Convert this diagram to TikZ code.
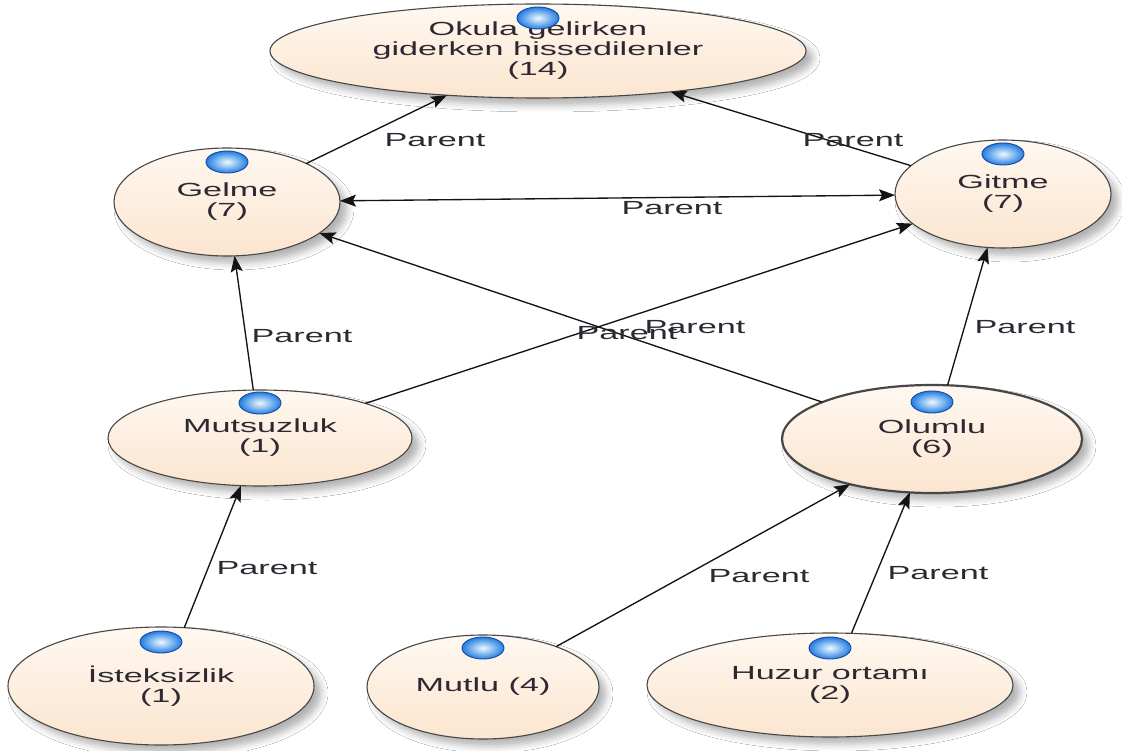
\documentclass[tikz,border=0pt]{standalone}
\usepackage{fontspec}
\setmainfont{Liberation Sans}[FakeStretch=1.8]
\usetikzlibrary{shapes.geometric,arrows.meta,shadows.blur}
\definecolor{peachA}{RGB}{255,248,240}
\definecolor{peachB}{RGB}{251,229,207}
\definecolor{txt}{RGB}{45,40,50}
\definecolor{edgec}{RGB}{20,20,20}
\definecolor{dotin}{RGB}{235,250,255}
\definecolor{dotout}{RGB}{35,125,225}
\definecolor{dotrim}{RGB}{20,75,165}
\pgfdeclarelayer{bg}
\pgfsetlayers{bg,main}
\begin{document}
\begin{tikzpicture}[x=1pt,y=-1pt,
  font=\fontsize{19pt}{20pt}\selectfont,
  concept/.style={ellipse, draw=black!72, line width=1.1pt,
    top color=peachA, bottom color=peachB,
    inner sep=0pt, outer sep=0pt, align=center, text=txt,
    blur shadow={shadow xshift=7pt, shadow yshift=-7pt,
      shadow blur radius=7pt, shadow opacity=30}},
  bluedot/.style={ellipse, minimum width=42pt, minimum height=22pt,
    inner sep=0pt, draw=dotrim, line width=0.9pt,
    inner color=dotin, outer color=dotout},
  lbl/.style={text=txt, inner sep=0pt},
  conn/.style={draw=edgec, line width=1.35pt,
    -{Stealth[length=16pt,width=12pt,inset=3pt]}},
  connboth/.style={draw=edgec, line width=1.35pt,
    {Stealth[length=16pt,width=12pt,inset=3pt]}-{Stealth[length=16pt,width=12pt,inset=3pt]}},
  shconn/.style={draw=black!9, line width=1.6pt,
    -{Stealth[length=14pt,width=11pt,inset=3pt,color=black!16]},
    transform canvas={shift={(22pt,-14pt)}}}
]
\fill[white] (0,0) rectangle (1122,751);
\useasboundingbox (0,0) rectangle (1122,751);

% nodes
\node[concept, minimum width=536pt, minimum height=94pt] (top) at (538,51)
  {Okula gelirken\\giderken hissedilenler\\(14)};
\node[concept, minimum width=226pt, minimum height=108pt] (gelme) at (227,202) {Gelme\\(7)};
\node[concept, minimum width=216pt, minimum height=108pt] (gitme) at (1003,194) {Gitme\\(7)};
\node[concept, minimum width=304pt, minimum height=96pt] (mutsuz) at (260,438) {Mutsuzluk\\(1)};
\node[concept, minimum width=300pt, minimum height=108pt, line width=2.2pt] (olumlu) at (932,439) {Olumlu\\(6)};
\node[concept, minimum width=306pt, minimum height=118pt] (istek) at (161,686) {İsteksizlik\\(1)};
\node[concept, minimum width=232pt, minimum height=104pt] (mutlu) at (483,687) {Mutlu (4)};
\node[concept, minimum width=366pt, minimum height=104pt] (huzur) at (830,685) {Huzur ortamı\\(2)};

% shadow connectors
\begin{pgfonlayer}{bg}
\draw[shconn] (gelme) -- (top);
\draw[shconn] (gitme) -- (top);
\draw[shconn] (gelme) -- (gitme);
\draw[shconn] (mutsuz) -- (gelme);
\draw[shconn] (mutsuz) -- (gitme);
\draw[shconn] (olumlu) -- (gelme);
\draw[shconn] (olumlu) -- (gitme);
\draw[shconn] (istek) -- (mutsuz);
\draw[shconn] (mutlu) -- (olumlu);
\draw[shconn] (huzur) -- (olumlu);
\end{pgfonlayer}

% blue dots
\node[bluedot] (dtop) at ([yshift=33pt]top.center) {};
\node[bluedot] (dgelme) at ([yshift=40pt]gelme.center) {};
\node[bluedot] (dgitme) at ([yshift=40pt]gitme.center) {};
\node[bluedot] (dmutsuz) at ([yshift=35pt]mutsuz.center) {};
\node[bluedot] (dolumlu) at ([yshift=37pt]olumlu.center) {};
\node[bluedot] (distek) at ([yshift=44pt]istek.center) {};
\node[bluedot] (dmutlu) at ([yshift=39pt]mutlu.center) {};
\node[bluedot] (dhuzur) at ([yshift=37pt]huzur.center) {};

% connectors
\draw[conn] (gelme) -- (top);
\draw[conn] (gitme) -- (top);
\draw[connboth] (gelme) -- (gitme);
\draw[conn] (mutsuz) -- (gelme);
\draw[conn] (mutsuz) -- (gitme);
\draw[conn] (olumlu) -- (gelme);
\draw[conn] (olumlu) -- (gitme);
\draw[conn] (istek) -- (mutsuz);
\draw[conn] (mutlu) -- (olumlu);
\draw[conn] (huzur) -- (olumlu);

% labels
\node[lbl] (l1) at (435,140) {Parent};
\node[lbl] (l2) at (853,140) {Parent};
\node[lbl] (l3) at (672,208) {Parent};
\node[lbl] (l4) at (302,336) {Parent};
\node[lbl] (l5) at (627,333) {Parent};
\node[lbl] (l6) at (695,327) {Parent};
\node[lbl] (l7) at (1025,327) {Parent};
\node[lbl] (l8) at (267,568) {Parent};
\node[lbl] (l9) at (759,576) {Parent};
\node[lbl] (l10) at (938,573) {Parent};
\end{tikzpicture}
\end{document}
